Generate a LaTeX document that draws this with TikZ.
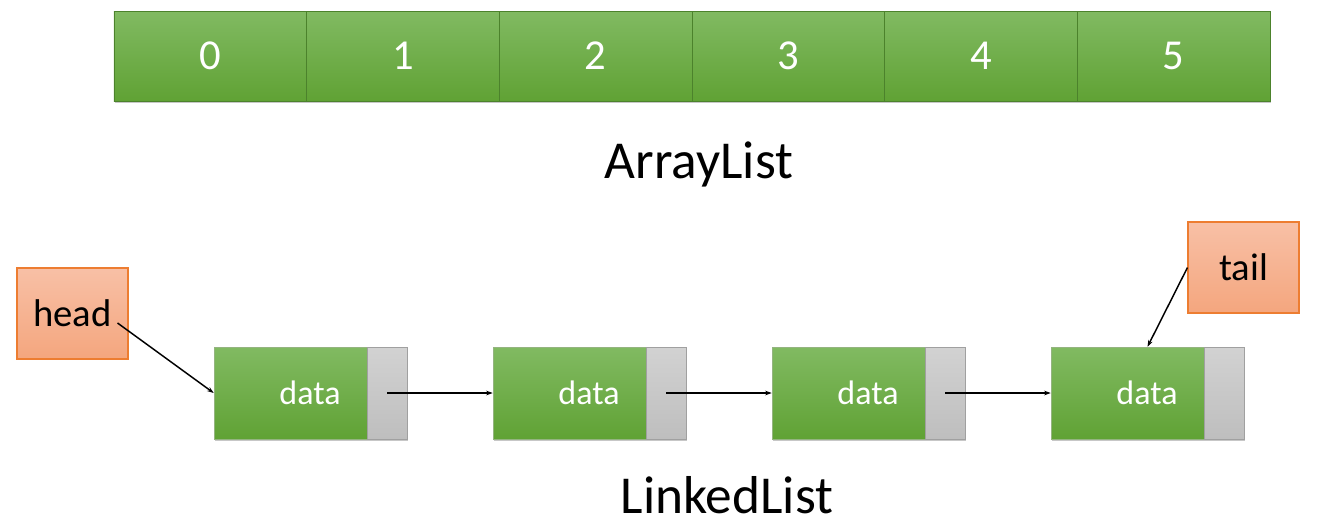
\documentclass[tikz,border=0pt]{standalone}
\usepackage{fontspec}
\setmainfont{Carlito}
\usetikzlibrary{arrows.meta,shadows}
\definecolor{gtop}{RGB}{129,186,98}
\definecolor{gbot}{RGB}{96,162,52}
\definecolor{gline}{RGB}{76,130,44}
\definecolor{ytop}{RGB}{210,210,210}
\definecolor{ybot}{RGB}{190,190,190}
\definecolor{yline}{RGB}{160,160,160}
\definecolor{otop}{RGB}{248,192,166}
\definecolor{obot}{RGB}{244,166,126}
\definecolor{oline}{RGB}{237,125,49}
\tikzset{
  shad/.style={drop shadow={shadow xshift=0.8pt,shadow yshift=-1.2pt,opacity=0.22,fill=black}},
  cell/.style={draw=gline,line width=0.5pt,top color=gtop,bottom color=gbot,
    minimum width=144.5pt,minimum height=67.5pt,inner sep=0pt,text=white,
    font=\fontsize{32}{38}\selectfont,shad},
  greenbox/.style={draw=gline!60,line width=0.4pt,top color=gtop,bottom color=gbot,
    minimum width=114.75pt,minimum height=69pt,inner sep=0pt,shad},
  graybox/.style={draw=yline,line width=0.6pt,top color=ytop,bottom color=ybot,
    minimum width=30pt,minimum height=69pt,inner sep=0pt,shad},
  datatxt/.style={text=white,font=\fontsize{25.5}{30}\selectfont,inner sep=0pt},
  ptr/.style={draw=oline,line width=0.8pt,top color=otop,bottom color=obot,
    minimum width=83.25pt,minimum height=68.25pt,inner sep=0pt,font=\fontsize{29}{34}\selectfont},
  title/.style={font=\fontsize{40}{48}\selectfont,inner sep=0pt,anchor=base},
  arr/.style={-{Stealth[length=5pt,width=3.5pt]},line width=1.1pt,black},
}
\begin{document}
\begin{tikzpicture}[x=0.75pt,y=-0.75pt]
\useasboundingbox (0,0) rectangle (1321,529);
% array
\foreach \i in {0,...,5}{
  \node[cell] (a\i) at ({114+96.33+192.67*\i},56) {\i};
}
\node[title] (al) at (699,178) {ArrayList};
% linked list
\foreach \i/\x in {1/214,2/493,3/772,4/1051}{
  \node[greenbox] (d\i) at ({\x+76.5},393) {};
  \node[graybox] (p\i) at ({\x+173},393) {};
  \node[datatxt] (t\i) at ({\x+96},393) {data};
}
\node[ptr] (head) at (72.5,313.5) {head};
\node[ptr] (tail) at (1243.5,267.5) {tail};
\draw[arr] (p1.center) -- (d2.west);
\draw[arr] (p2.center) -- (d3.west);
\draw[arr] (p3.center) -- (d4.west);
\draw[arr] ([shift={(-11,9.5)}]head.east) -- (d1.west);
\draw[arr] (tail.west) -- ([shift={(20,0)}]d4.north);
\node[title] (ll) at (727,513) {LinkedList};
\end{tikzpicture}
\end{document}
